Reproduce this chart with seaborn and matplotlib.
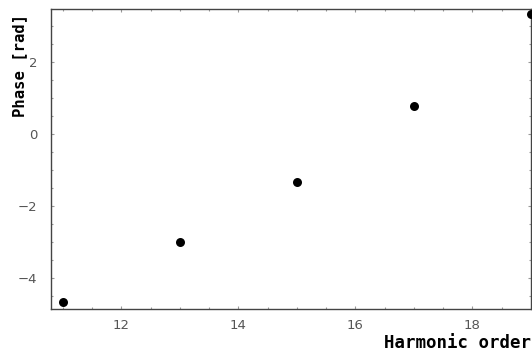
import matplotlib
matplotlib.use("Agg")
import matplotlib.pyplot as plt
import seaborn as sns
import pandas as pd
from matplotlib.ticker import MultipleLocator

harmonic_order = [11, 13, 15, 17, 19]
phase_rad = [-4.67, -3.0, -1.33, 0.78, 3.33]

sns.set_style("ticks")
plt.rcParams['font.family'] = ['DejaVu Sans']

df = pd.DataFrame({"order": harmonic_order, "phase": phase_rad})

fig = plt.figure(figsize=(5.32, 3.54), dpi=100)
ax = fig.add_axes([51/532, (354-309)/354, (531-51)/532, (309-9)/354])
sns.scatterplot(data=df, x="order", y="phase", ax=ax, color="black",
                s=42, edgecolor="black", linewidth=0, clip_on=True, zorder=3)

ax.set_xlim(10.8, 19.0)
ax.set_ylim(-4.86, 3.47)
ax.xaxis.set_major_locator(MultipleLocator(2))
ax.xaxis.set_minor_locator(MultipleLocator(0.5))
ax.yaxis.set_major_locator(MultipleLocator(2))
ax.yaxis.set_minor_locator(MultipleLocator(0.5))
ax.tick_params(which="both", direction="in", top=True, right=True,
               color="#999999", width=0.8)
ax.tick_params(which="major", length=2.5, labelsize=9.5, labelcolor="#555555")
ax.tick_params(axis="x", which="major", pad=7)
ax.tick_params(axis="y", which="major", pad=10)
ax.tick_params(which="minor", length=1.2)
for s in ax.spines.values():
    s.set_color("#444444")
    s.set_linewidth(1.0)
ax.set_xlabel("")
ax.set_ylabel("")

fig.text(531/532, 1 - 343/354, "Harmonic order", ha="right", va="center",
         fontsize=12.5, fontweight="bold", family="DejaVu Sans Mono", color="black")
fig.text(20/532, 1 - 14/354, "Phase [rad]", ha="center", va="top",
         rotation=90, fontsize=11.2, fontweight="bold", family="DejaVu Sans Mono", color="black")

fig.savefig("out.png", dpi=100)
